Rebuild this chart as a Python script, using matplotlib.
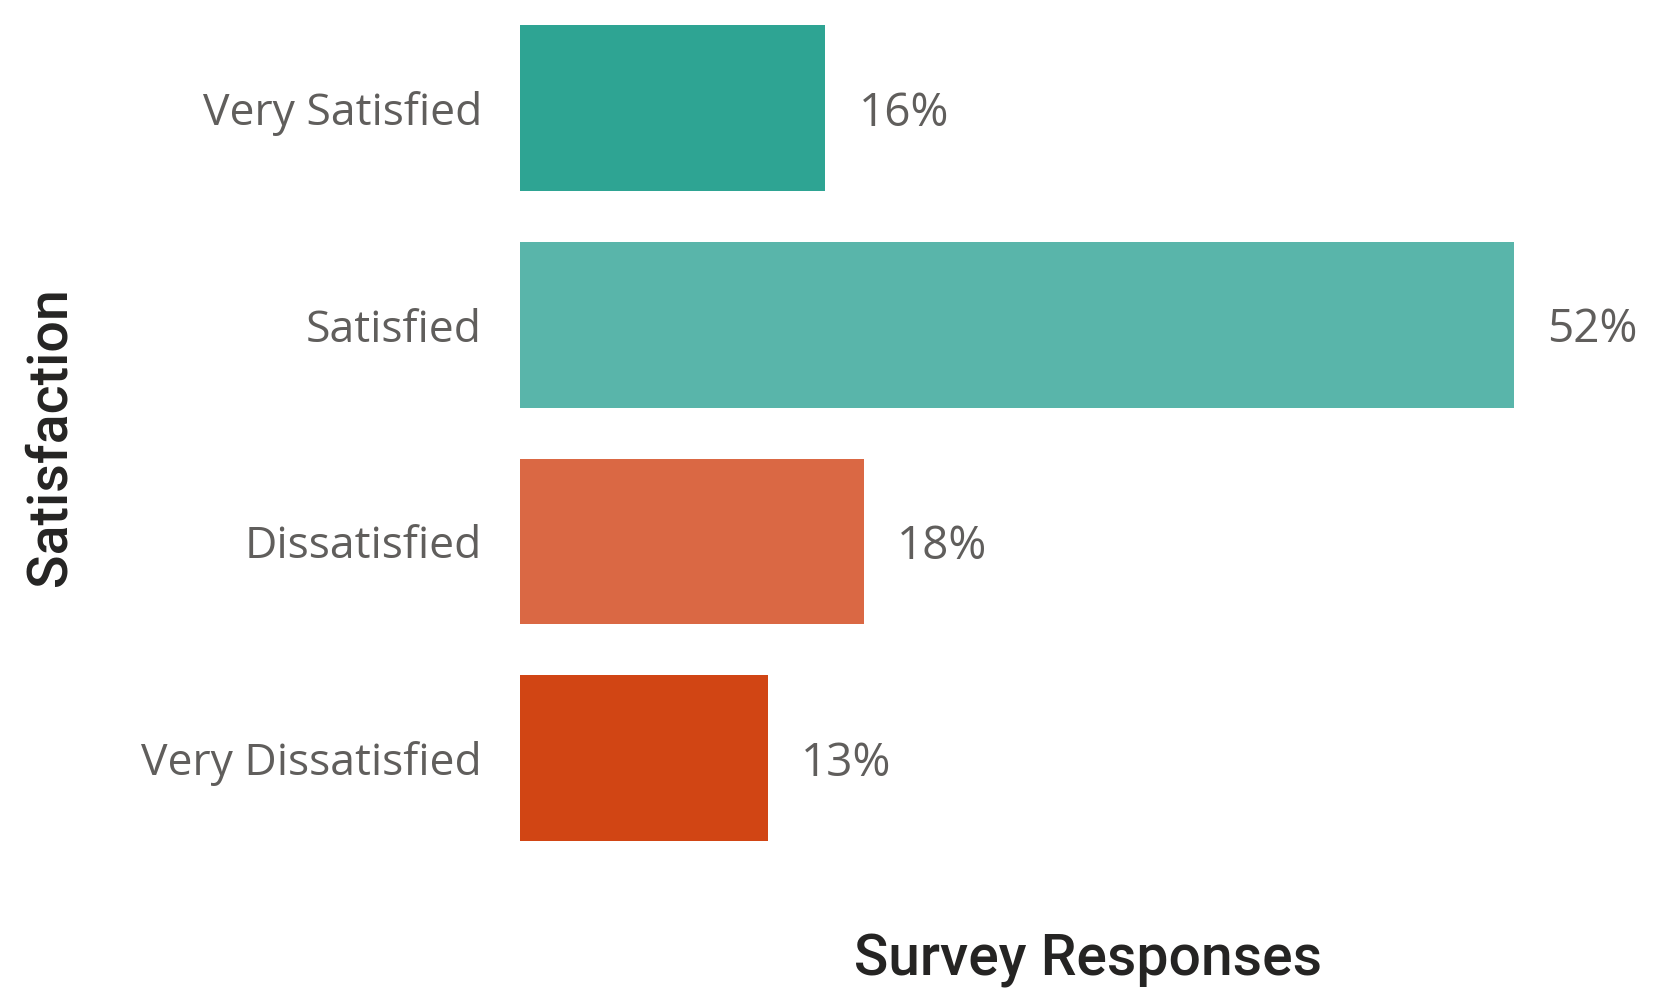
import matplotlib
matplotlib.use("Agg")
import matplotlib.pyplot as plt

categories = ["Very Satisfied", "Satisfied", "Dissatisfied", "Very Dissatisfied"]
values = [16, 52, 18, 13]
bar_colors = ["#2EA493", "#59B5AA", "#DA6844", "#D14514"]

W, H, DPI = 1669, 1000, 100
fig = plt.figure(figsize=(W / DPI, H / DPI), dpi=DPI)
fig.patch.set_facecolor("white")

# axes placed in pixel terms
left_px, right_px = 519.5, 1513.6
top_px, bottom_px = 0.0, 866.4
ax = fig.add_axes([left_px / W, 1 - bottom_px / H,
                   (right_px - left_px) / W, (bottom_px - top_px) / H])

y = list(range(len(categories)))
ax.barh(y, values, height=0.765, color=bar_colors)
ax.set_xlim(0, max(values))
ax.set_ylim(len(categories) - 0.5, -0.5)

label_font = "Open Sans"
for yi, v in zip(y, values):
    ax.annotate(f"{v}%", xy=(v, yi), xytext=(24, -4), textcoords="offset points",
                va="center", ha="left", fontsize=33, color="#605E5C",
                family=label_font, clip_on=False)

ax.set_yticks(y)
ax.set_yticklabels(categories, fontsize=32, color="#605E5C", family=label_font)
ax.tick_params(axis="y", length=0, pad=27)
ax.set_xticks([])
for s in ax.spines.values():
    s.set_visible(False)

fig.text(1088 / W, 1 - 960 / H, "Survey Responses", ha="center", va="center",
         fontsize=41, color="#252423", family="Roboto", fontweight="medium")
fig.text(50 / W, 1 - 437 / H, "Satisfaction", ha="center", va="center",
         rotation=90, fontsize=40, color="#252423", family="Roboto",
         fontweight="medium")

fig.savefig("out.png", dpi=DPI, facecolor="white")
